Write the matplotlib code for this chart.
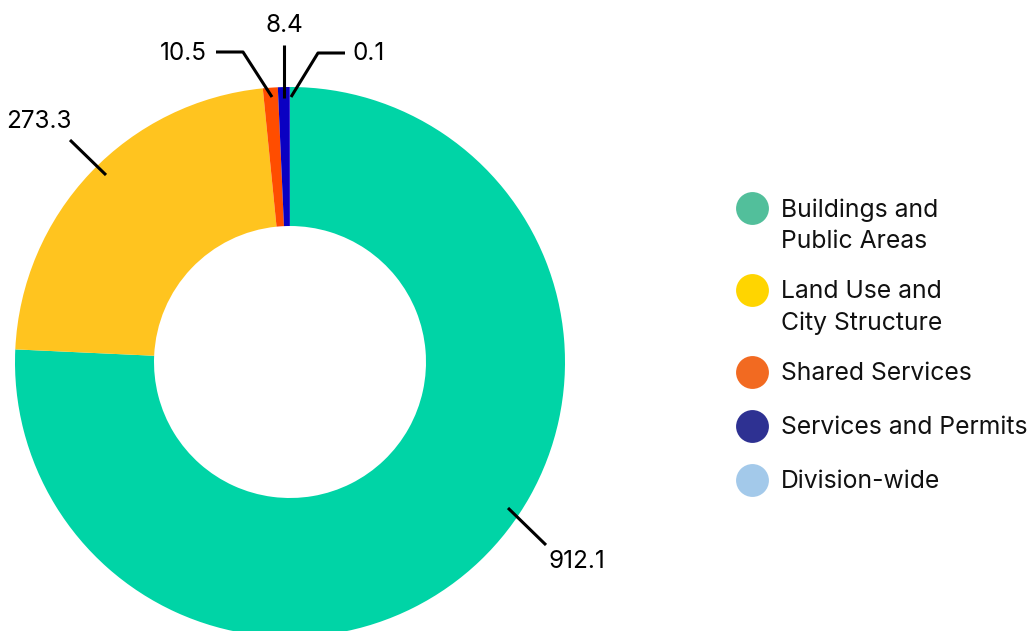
import matplotlib.pyplot as plt

# budget by division
labels = ['Buildings and\nPublic Areas', 'Land Use and\nCity Structure',
          'Shared Services', 'Services and Permits', 'Division-wide']
values = [912.1, 273.3, 10.5, 8.4, 0.1]
value_text = ['912.1', '273.3', '10.5', '8.4', '0.1']
pie_colors = ['#00D4A6', '#FFC41F', '#FF4D00', '#0A00C2', '#A8A6F0']
legend_colors = ['#52BF9B', '#FFD500', '#F26A21', '#2E3192', '#A3C9EA']

plt.rcParams['font.family'] = ['Inter', 'DejaVu Sans']

fig = plt.figure(figsize=(10.35, 6.31), dpi=100)
ax = fig.add_axes([0, 0, 1, 1])

# pie drawn in pixel-like coords; y axis inverted so counterclock=True runs clockwise on screen
ax.pie(values, colors=pie_colors, startangle=-90, counterclock=True,
       radius=275, center=(290, 362), frame=True,
       wedgeprops=dict(width=139, linewidth=0))
ax.set_xlim(0, 1035)
ax.set_ylim(631, 0)
ax.set_aspect('equal')
ax.axis('off')

# leader lines and value labels
lk = dict(color='black', lw=2.2, solid_capstyle='butt')
ax.plot([508, 546], [508, 545], **lk)
ax.plot([106, 70], [175, 140], **lk)
ax.plot([272, 243, 216], [97, 52, 52], **lk)
ax.plot([284, 284], [98, 45], **lk)
ax.plot([291, 318, 345], [97, 53, 53], **lk)

fs = 17.5
ax.text(548, 561, value_text[0], fontsize=fs, va='center', ha='left')
ax.text(72, 121, value_text[1], fontsize=fs, va='center', ha='right')
ax.text(207, 53, value_text[2], fontsize=fs, va='center', ha='right')
ax.text(284, 25, value_text[3], fontsize=fs, va='center', ha='center')
ax.text(352, 53, value_text[4], fontsize=fs, va='center', ha='left')

# legend
rows = [208, 290, 372, 426, 480]
for y, lab, c in zip(rows, labels, legend_colors):
    ax.scatter([752], [y], s=560, color=c, linewidths=0)
    for i, line in enumerate(lab.split('\n')):
        ax.text(781, y + 2 + 31 * i, line, fontsize=17.8, va='center', ha='left',
                color='#111111')

fig.savefig('out.png', dpi=100)
